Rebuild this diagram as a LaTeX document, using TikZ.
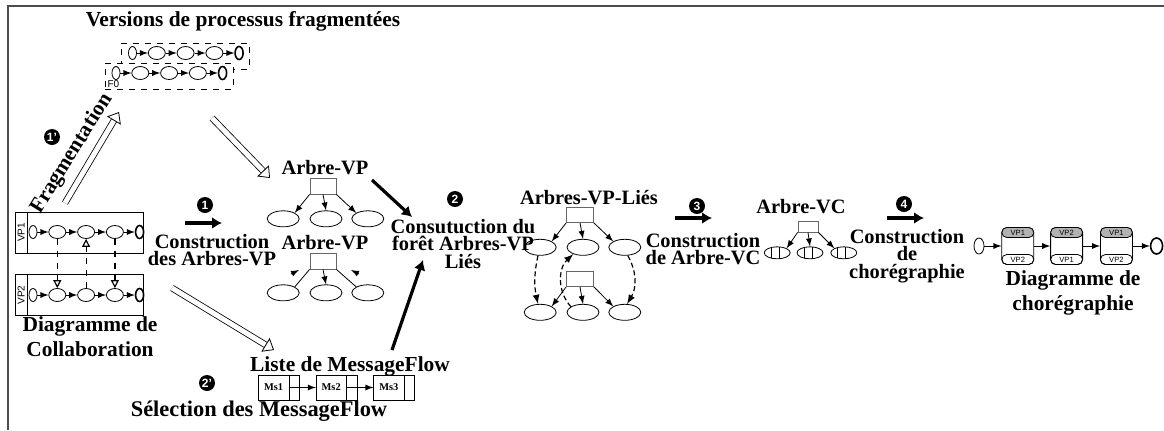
\documentclass[tikz,border=0pt]{standalone}
\usepackage{fontspec}
\setmainfont{Liberation Serif}
\setsansfont{Liberation Sans}
\usetikzlibrary{positioning,arrows,arrows.meta,shapes,shapes.multipart,calc}

\tikzset{
    titre/.style={
        font=\bfseries\fontsize{10.2}{8.7}\selectfont,
        align=center,
        inner sep=0pt,
    },
    legende/.style={
        titre,
        font=\bfseries\fontsize{10.7}{12.5}\selectfont,
    },
    etape/.style={
        circle,
        fill=black,
        text=white,
        inner sep=0pt,
        minimum size=8pt,
        font=\sffamily\bfseries\fontsize{6}{6}\selectfont,
    },
    cadre/.style={
        draw=black!70,
        line width=0.7pt,
    },
    fragment/.style={
        rectangle,
        draw,
        dashed,
        minimum width=64pt,
        minimum height=13pt,
        inner sep=0pt,
    },
    pool/.style={
        rectangle,
        draw,
        minimum width=64pt,
        minimum height=20.5pt,
        inner sep=0pt,
    },
    petit/.style={
        font=\sffamily\fontsize{5}{5}\selectfont,
        inner sep=0.3pt,
    },
    tache/.style={ellipse, draw, minimum width=8.5pt, minimum height=6.5pt, inner sep=0pt},
    debut/.style={ellipse, draw, minimum width=4pt, minimum height=6.5pt, inner sep=0pt},
    fin/.style={debut, line width=0.8pt},
    seq/.style={-latex},
    msgflot/.style={
        dashed,
        semithick,
        -{Triangle[open,length=4pt,width=4pt]},
    },
    racine/.style={
        rectangle,
        draw=black!60,
        minimum width=13pt,
        minimum height=8pt,
        inner sep=0pt,
    },
    feuille/.style={ellipse, draw, minimum width=16pt, minimum height=8pt, inner sep=0pt},
    fleche/.style={-latex},
    lien/.style={
        semithick,
        dash pattern=on 2.5pt off 1.5pt,
        -latex,
    },
    creux/.style={
        double,
        double distance=2.5pt,
        thin,
        -{Triangle[open,length=5pt,width=8pt]},
    },
    gros/.style={
        line width=1.6pt,
        -{Latex[length=5pt,width=6pt]},
    },
    vc/.style={
        feuille,
        minimum width=13pt,
        minimum height=6pt,
        path picture={
            \draw ([xshift=-3pt]path picture bounding box.north) -- ([xshift=-3pt]path picture bounding box.south);
            \draw ([xshift=1pt]path picture bounding box.north) -- ([xshift=1pt]path picture bounding box.south);
        },
    },
    choreo/.style={
        rectangle,
        rounded corners=2.5pt,
        draw,
        minimum width=16pt,
        minimum height=18.5pt,
        inner sep=0pt,
    },
    bande/.style={
        rectangle,
        rounded corners=2.5pt,
        draw,
        minimum width=16pt,
        minimum height=5pt,
        inner sep=0pt,
        font=\sffamily\fontsize{3.8}{3.8}\selectfont,
    },
    msg/.style={
        rectangle split,
        rectangle split horizontal,
        rectangle split parts=2,
        draw,
        minimum height=12.5pt,
        inner xsep=1.5pt,
        inner ysep=0pt,
        font=\bfseries\fontsize{5.2}{5.2}\selectfont,
    },
}

\begin{document}
\begin{tikzpicture}[x=0.5pt,y=-0.5pt]
    \useasboundingbox (0,0) rectangle (1164,430);
    \draw[cadre] (8,430) -- (8,6) -- (1164,6);

    % versions fragmentees
    \node[legende] (T0) at (243,21) {Versions de processus fragmentées};
    \node[fragment] (F1) at (185,56) {};
    \node[fragment,fill=white] (F0) at (169,76) {};
    \node[debut] (f1) at (132.5,53) {};
    \node[tache,right=5.5pt of f1] (f2) {};
    \node[tache,right=5.5pt of f2] (f3) {};
    \node[tache,right=5.5pt of f3] (f4) {};
    \node[fin,right=5.5pt of f4] (f5) {};
    \node[debut] (g1) at (116,73) {};
    \node[tache,right=5.5pt of g1] (g2) {};
    \node[tache,right=5.5pt of g2] (g3) {};
    \node[tache,right=5.5pt of g3] (g4) {};
    \node[fin,right=5.5pt of g4] (g5) {};
    \node[petit,anchor=south west] (l0) at ([xshift=1pt,yshift=0.5pt]F0.south west) {F0};
    \draw[seq] (f1) -- (f2); \draw[seq] (f2) -- (f3); \draw[seq] (f3) -- (f4); \draw[seq] (f4) -- (f5);
    \draw[seq] (g1) -- (g2); \draw[seq] (g2) -- (g3); \draw[seq] (g3) -- (g4); \draw[seq] (g4) -- (g5);

    % diagramme de collaboration
    \node[pool] (P1) at (79,232.5) {};
    \node[pool] (P2) at (79,295) {};
    \draw ([xshift=6.5pt]P1.north west) -- ([xshift=6.5pt]P1.south west);
    \draw ([xshift=6.5pt]P2.north west) -- ([xshift=6.5pt]P2.south west);
    \node[petit,rotate=90] (l1) at ([xshift=3.3pt]P1.west) {VP1};
    \node[petit,rotate=90] (l2) at ([xshift=3.3pt]P2.west) {VP2};
    \node[debut] (a1) at (33,232) {};
    \node[tache,right=5.5pt of a1] (a2) {};
    \node[tache,right=5.5pt of a2] (a3) {};
    \node[tache,right=5.5pt of a3] (a4) {};
    \node[fin,right=5.5pt of a4] (a5) {};
    \node[debut] (b1) at (33,295) {};
    \node[tache,right=5.5pt of b1] (b2) {};
    \node[tache,right=5.5pt of b2] (b3) {};
    \node[tache,right=5.5pt of b3] (b4) {};
    \node[fin,right=5.5pt of b4] (b5) {};
    \draw[seq] (a1) -- (a2); \draw[seq] (a2) -- (a3); \draw[seq] (a3) -- (a4); \draw[seq] (a4) -- (a5);
    \draw[seq] (b1) -- (b2); \draw[seq] (b2) -- (b3); \draw[seq] (b3) -- (b4); \draw[seq] (b4) -- (b5);
    \draw[msgflot] (a2) -- (b2);
    \draw[msgflot] (b3) -- (a3);
    \draw[msgflot] (a4) -- (b4);
    \node[legende] (D1) at (90,337) {Diagramme de\\Collaboration};

    % fragmentation
    \coordinate (u1) at (65,203);
    \coordinate (u2) at (119,112);
    \draw[creux] (u1) -- (u2);
    \node[legende,rotate=58] (fr) at (72,154) {Fragmentation};
    \node[etape] (n1p) at (52,137) {1'};

    % construction des arbres
    \coordinate (v1) at (212,118);
    \coordinate (v2) at (270,178);
    \draw[creux] (v1) -- (v2);
    \node[etape] (n1) at (205,205) {1};
    \coordinate (k1a) at (185,223);
    \coordinate (k1b) at (222,223);
    \draw[gros] (k1a) -- (k1b);
    \node[titre] (c1) at (212,250) {Construction\\des Arbres-VP};

    % arbres VP
    \node[titre] (A1) at (325,168) {Arbre-VP};
    \node[racine] (r1) at (323,186) {};
    \node[feuille,below=8pt of r1,xshift=1.5pt] (e2) {};
    \node[feuille,left=5pt of e2] (e1) {};
    \node[feuille,right=4.5pt of e2] (e3) {};
    \draw[fleche] (r1.south west) -- (e1.north east);
    \draw[fleche] (r1.south) -- (e2.north);
    \draw[fleche] (r1.south east) -- (e3.north west);
    \node[titre] (A2) at (325,243) {Arbre-VP};
    \node[racine] (r2) at (323,261) {};
    \node[feuille,below=7.5pt of r2,xshift=1.5pt] (k2) {};
    \node[feuille,left=5pt of k2] (k1) {};
    \node[feuille,right=4.5pt of k2] (k3) {};
    \draw (r2.south west) -- (k1.north east);
    \draw[fleche] (r2.south) -- (k2.north);
    \draw (r2.south east) -- (k3.north west);
    \coordinate (w1a) at (291,274);
    \coordinate (w1b) at (299,270);
    \coordinate (w2a) at (359,274);
    \coordinate (w2b) at (351,270);
    \draw[fleche] (w1a) -- (w1b);
    \draw[fleche] (w2a) -- (w2b);

    % liste de MessageFlow
    \coordinate (v3) at (172,288);
    \coordinate (v4) at (274,350);
    \draw[creux] (v3) -- (v4);
    \node[etape] (n2p) at (207,383) {2'};
    \node[legende,font=\bfseries\fontsize{11.2}{12}\selectfont] (s1) at (259,411) {Sélection des MessageFlow};
    \node[legende] (L1) at (350,366) {Liste de MessageFlow};
    \node[msg] (m1) at (279,387.5) {\makebox[12pt]{Ms1}\nodepart{two}\makebox[2pt]{}};
    \node[msg,right=8pt of m1] (m2) {\makebox[12pt]{Ms2}\nodepart{two}\makebox[2pt]{}};
    \node[msg,right=8pt of m2] (m3) {\makebox[12pt]{Ms3}\nodepart{two}\makebox[2pt]{}};
    \draw[fleche] (m1.one split) -- (m2.west);
    \draw[fleche] (m2.one split) -- (m3.west);

    % foret des arbres lies
    \coordinate (k2a) at (372,180);
    \coordinate (k2b) at (412,217);
    \draw[gros] (k2a) -- (k2b);
    \coordinate (k3a) at (392,350);
    \coordinate (k3b) at (423,260);
    \draw[gros] (k3a) -- (k3b);
    \node[etape] (n2) at (455,199) {2};
    \node[titre] (c2) at (463,244) {Consutuction du\\forêt Arbres-VP\\Liés};

    \node[titre] (A3) at (589,198) {Arbres-VP-Liés};
    \node[racine,minimum width=13.5pt,minimum height=7.5pt] (r3) at (580,215) {};
    \node[feuille,below=8pt of r3,xshift=1.5pt] (h2) {};
    \node[feuille,left=5pt of h2] (h1) {};
    \node[feuille,right=4.5pt of h2] (h3) {};
    \node[racine,minimum width=13.5pt,minimum height=7.5pt] (r4) at (580,279) {};
    \node[feuille,below=8.5pt of r4,xshift=1.5pt] (j2) {};
    \node[feuille,left=5pt of j2] (j1) {};
    \node[feuille,right=4.5pt of j2] (j3) {};
    \draw[fleche] (r3.south west) -- (h1.north east);
    \draw[fleche] (r3.south) -- (h2.north);
    \draw[fleche] (r3.south east) -- (h3.north west);
    \draw[fleche] (r4.south west) -- (j1.north east);
    \draw[fleche] (r4.south) -- (j2.north);
    \draw[fleche] (r4.south east) -- (j3.north west);
    \draw[lien] (h1.255) to[bend right=12] (j1.105);
    \draw[lien] (j2.155) to[bend left=45] (h2.215);
    \draw[lien] (h3.290) to[bend left=30] (j3.75);

    % arbre VC
    \node[etape] (n3) at (697,206) {3};
    \coordinate (k4a) at (675,218);
    \coordinate (k4b) at (712,218);
    \draw[gros] (k4a) -- (k4b);
    \node[titre] (c3) at (703,249) {Construction\\de Arbre-VC};
    \node[titre] (A4) at (801,207) {Arbre-VC};
    \node[racine,minimum width=10pt,minimum height=5.5pt] (r5) at (808,226.5) {};
    \node[vc,below=7pt of r5,xshift=1pt] (o2) {};
    \node[vc,left=3pt of o2] (o1) {};
    \node[vc,right=3.5pt of o2] (o3) {};
    \draw[fleche] (r5.south west) -- (o1.north east);
    \draw[fleche] (r5.south) -- (o2.north);
    \draw[fleche] (r5.south east) -- (o3.north west);

    % choregraphie
    \node[etape] (n4) at (904,204) {4};
    \coordinate (k5a) at (887,218);
    \coordinate (k5b) at (924,218);
    \draw[gros] (k5a) -- (k5b);
    \node[titre] (c4) at (907,256) {Construction\\de\\chorégraphie};
    \node[debut,minimum width=5pt,minimum height=8pt] (q0) at (979,246) {};
    \node[choreo,right=8.5pt of q0] (t1) {};
    \node[choreo,right=8pt of t1] (t2) {};
    \node[choreo,right=8.5pt of t2] (t3) {};
    \node[fin,minimum width=6pt,minimum height=8pt,right=8.5pt of t3] (q4) {};
    \node[bande,fill=black!30,anchor=north] (p1) at (t1.north) {VP1};
    \node[bande,anchor=south] (p2) at (t1.south) {VP2};
    \node[bande,fill=black!30,anchor=north] (p3) at (t2.north) {VP2};
    \node[bande,anchor=south] (p4) at (t2.south) {VP1};
    \node[bande,fill=black!30,anchor=north] (p5) at (t3.north) {VP1};
    \node[bande,anchor=south] (p6) at (t3.south) {VP2};
    \draw[fleche] (q0) -- (t1);
    \draw[fleche] (t1) -- (t2);
    \draw[fleche] (t2) -- (t3);
    \draw[fleche] (t3) -- (q4);
    \node[legende] (D2) at (1073,293) {Diagramme de\\chorégraphie};
\end{tikzpicture}
\end{document}
